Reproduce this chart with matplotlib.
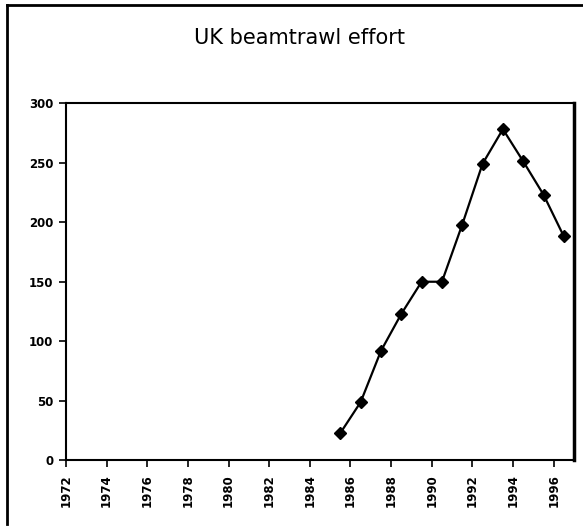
import matplotlib
matplotlib.use("Agg")
import matplotlib.pyplot as plt
from matplotlib.lines import Line2D

years = [1985, 1986, 1987, 1988, 1989, 1990, 1991, 1992, 1993, 1994, 1995, 1996]
effort = [23, 49, 92, 123, 150, 150, 198, 249, 278, 251, 223, 188]
tick_years = list(range(1972, 1997, 2))
y_ticks = [0, 50, 100, 150, 200, 250, 300]

fig = plt.figure(figsize=(5.83, 5.27), dpi=100)
ax = fig.add_axes([0.1132, 0.1262, 0.8714, 0.6784])

# points sit in the middle of each year's category
xs = [y + 0.5 for y in years]
ax.plot(xs, effort, color="black", lw=1.6, marker="D", ms=6,
        markerfacecolor="black", markeredgecolor="black")

ax.set_xlim(1972, 1997)
ax.set_ylim(0, 300)
ax.set_xticks(tick_years)
ax.set_xticklabels([str(t) for t in tick_years], rotation=90,
                   fontsize=8.5, fontweight="bold")
ax.set_yticks(y_ticks)
ax.set_yticklabels([str(t) for t in y_ticks], fontsize=8.5, fontweight="bold")
ax.tick_params(direction="out", length=5, width=1.2, color="black", pad=4)
ax.tick_params(axis="x", pad=5)

for side in ["left", "bottom", "top"]:
    ax.spines[side].set_linewidth(1.5)
ax.spines["right"].set_linewidth(2.5)

fig.text(0.513, 0.928, "UK beamtrawl effort", ha="center", va="center",
         fontsize=15)

# outer chart frame (only top and left edges show in the scan)
fig.add_artist(Line2D([7 / 583, 7 / 583], [1 - 5 / 527, 0.005],
                      transform=fig.transFigure, color="black", lw=2))
fig.add_artist(Line2D([7 / 583, 1.0], [1 - 5 / 527, 1 - 5 / 527],
                      transform=fig.transFigure, color="black", lw=2))

fig.savefig("out.png", dpi=100)
